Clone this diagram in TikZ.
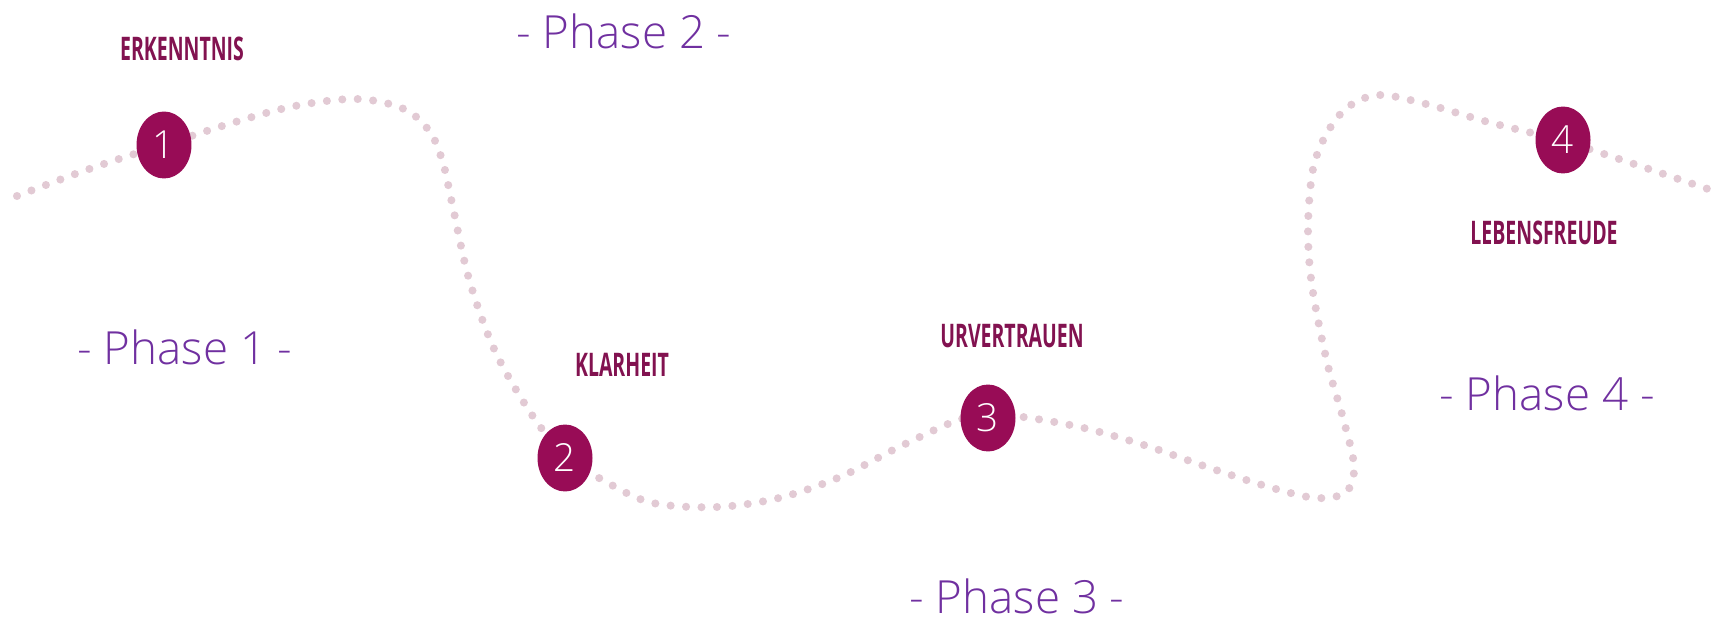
\documentclass[tikz,border=0pt]{standalone}
\usepackage{fontspec}
\setmainfont{Open Sans}
\newfontfamily\labelfont{Open Sans}[FakeStretch=0.6]
\newfontfamily\phasefont{Open Sans Light}
\usetikzlibrary{shapes.geometric}
\definecolor{nodecol}{RGB}{152,12,86}
\definecolor{labcol}{RGB}{130,18,80}
\definecolor{phasecol}{RGB}{112,48,160}
\definecolor{dotcol}{RGB}{226,202,212}
\tikzset{
  stepnode/.style={ellipse, fill=nodecol, minimum width=1.1cm, minimum height=1.34cm, inner sep=0pt, text=white, font=\phasefont\fontsize{22}{22}\selectfont},
  labeltext/.style={text=labcol, font=\labelfont\bfseries\fontsize{18.5}{18.5}\selectfont, inner sep=0pt},
  phasetext/.style={text=phasecol, font=\phasefont\fontsize{26}{26}\selectfont, anchor=base, inner sep=0pt},
  dotpath/.style={draw=dotcol, line width=4.6pt, line cap=round, dash pattern=on 0pt off 8.8pt}
}
\begin{document}
\begin{tikzpicture}[x=0.02cm, y=-0.02cm]
\useasboundingbox (0,0) rectangle (1727,621);
\draw[dotpath] plot[smooth, tension=0.55] coordinates {
 (17,196) (78,173) (125,157) (164,145) (232,123) (295,106) (357,99) (404,109)
 (430,132) (443,163) (452,203) (469,279) (495,351) (532,415) (565,455) (608,483)
 (653,503) (717,507) (779,498) (840,477) (899,447) (958,420) (988,416) (1023,417)
 (1084,428) (1147,446) (1207,467) (1269,487) (1316,498) (1346,492) (1354,466)
 (1343,418) (1327,362) (1312,286) (1308,228) (1313,169) (1327,133) (1348,107)
 (1379,95) (1426,104) (1488,122) (1563,141) (1628,162) (1690,183) (1717,192)};
\node[stepnode] (n1) at (164,145) {1};
\node[stepnode] (n2) at (565,458) {2};
\node[stepnode] (n3) at (988,418) {3};
\node[stepnode] (n4) at (1563,140) {4};
\node[labeltext] (l1) at (182,49) {ERKENNTNIS};
\node[labeltext] (l2) at (622,365) {KLARHEIT};
\node[labeltext] (l3) at (1012,336) {URVERTRAUEN};
\node[labeltext] (l4) at (1544,233) {LEBENSFREUDE};
\node[phasetext] (p1) at (185,365) {- Phase 1 -};
\node[phasetext] (p2) at (624,49) {- Phase 2 -};
\node[phasetext] (p3) at (1017,613) {- Phase 3 -};
\node[phasetext] (p4) at (1547,410) {- Phase 4 -};
\end{tikzpicture}
\end{document}
